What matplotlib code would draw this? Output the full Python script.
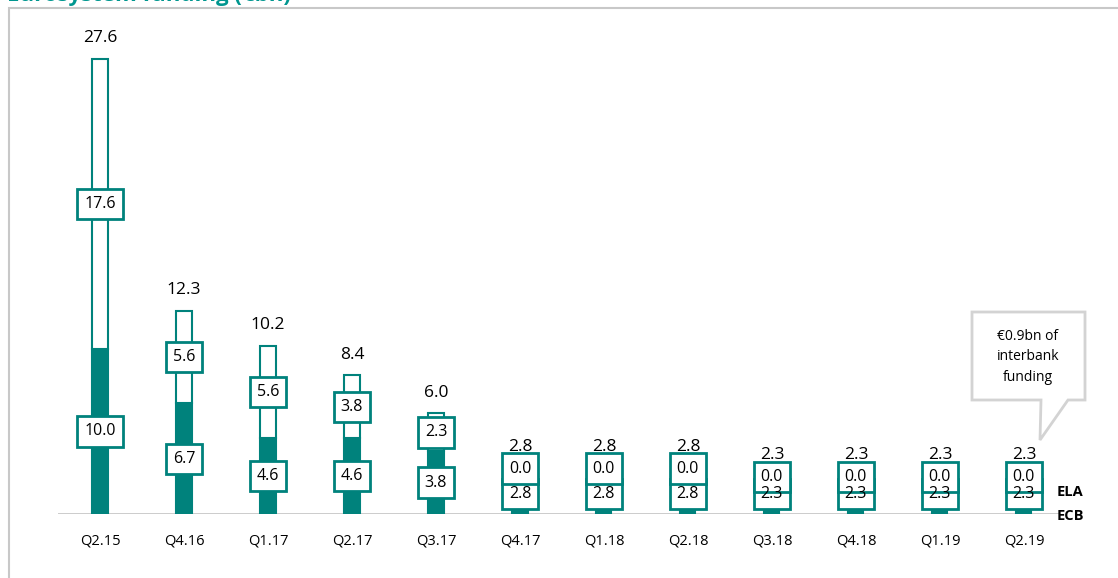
import numpy as np
import matplotlib
matplotlib.use("Agg")
import matplotlib.pyplot as plt
from matplotlib.patches import Rectangle, Polygon

plt.rcParams['font.family'] = ['Open Sans', 'DejaVu Sans']

## data
quarters = ["Q2.15", "Q4.16", "Q1.17", "Q2.17", "Q3.17", "Q4.17",
            "Q1.18", "Q2.18", "Q3.18", "Q4.18", "Q1.19", "Q2.19"]
ecb = [10.0, 6.7, 4.6, 4.6, 3.8, 2.8, 2.8, 2.8, 2.3, 2.3, 2.3, 2.3]
ela = [17.6, 5.6, 5.6, 3.8, 2.3, 0.0, 0.0, 0.0, 0.0, 0.0, 0.0, 0.0]
totals = [27.6, 12.3, 10.2, 8.4, 6.0, 2.8, 2.8, 2.8, 2.3, 2.3, 2.3, 2.3]
series_names = ["ELA", "ECB"]
title = "Eurosystem funding (€bn)"
note = "€0.9bn of\ninterbank\nfunding"

teal = "#00827c"
title_col = "#00968f"
grey = "#d3d3d3"

W, H = 1118, 578
fig = plt.figure(figsize=(W / 100, H / 100), dpi=100)

# axes placed in pixel terms: baseline y=514, top y=30, x from 58 to 1060
ax = fig.add_axes([58 / W, (H - 514) / H, 1002 / W, 484 / H])
ax.set_xlim(-0.5, 11.43)
ax.set_ylim(0, 29.33)
ax.set_axis_off()

x = np.arange(len(quarters))
top = np.array(ecb) + np.array(ela)
bw = 0.18

ax.bar(x, ecb, bw, color=teal, edgecolor=teal, linewidth=1.5, zorder=2)
ax.bar(x, ela, bw, bottom=ecb, color="white", edgecolor=teal, linewidth=1.5, zorder=2)
ax.axhline(0, color="#c8c8c8", lw=2, zorder=1)

box = dict(boxstyle="square,pad=0.45", fc="white", ec=teal, lw=2)
fs = 11.5
for i in range(len(quarters)):
    ax.text(x[i], top[i] + 1.25, f"{totals[i]:.1f}", ha="center", va="center",
            fontsize=12.5, zorder=7)
    if ela[i] > 0:
        ax.text(x[i], ecb[i] / 2, f"{ecb[i]:.1f}", ha="center", va="center",
                fontsize=fs, bbox=box, zorder=4)
        ax.text(x[i], ecb[i] + ela[i] / 2, f"{ela[i]:.1f}", ha="center", va="center",
                fontsize=fs, bbox=box, zorder=5)
    else:
        # small bars: the two boxes sit on top of each other,
        # the ECB number stays visible over the ELA box edge
        ax.text(x[i], 1.2, f"{ecb[i]:.1f}", ha="center", va="center", color="none",
                fontsize=fs, bbox=box, zorder=4)
        ax.text(x[i], top[i] - 0.05, f"{ela[i]:.1f}", ha="center", va="center",
                fontsize=fs, bbox=box, zorder=5)
        ax.text(x[i], 1.2, f"{ecb[i]:.1f}", ha="center", va="center",
                fontsize=fs, zorder=6)
    ax.text(x[i], -1.65, quarters[i], ha="center", va="center", fontsize=10.5)

# series names at the right end
fig.text(1057 / W, 1 - 492 / H, series_names[0], ha="left", va="center",
         fontsize=10.5, fontweight="bold")
fig.text(1057 / W, 1 - 516 / H, series_names[1], ha="left", va="center",
         fontsize=10.5, fontweight="bold")

# callout
pts = [(972, 312), (1085, 312), (1085, 400), (1068, 400), (1040, 440),
       (1041, 400), (972, 400)]
fig.patches.append(Polygon([(px / W, 1 - py / H) for px, py in pts], closed=True,
                           fc="white", ec=grey, lw=2, transform=fig.transFigure,
                           figure=fig, zorder=8))
fig.text(1028 / W, 1 - 357 / H, note, ha="center", va="center", fontsize=10,
         linespacing=1.5, zorder=9)

# outer frame and title (cut at the top)
fig.patches.append(Rectangle((9 / W, -0.1), 1.2, 1 - 8 / H + 0.1, fill=False,
                             ec="#c8c8c8", lw=1.5, transform=fig.transFigure,
                             figure=fig, zorder=0))
fig.text(7 / W, 1 - (-4) / H, title, ha="left", va="center", fontsize=16,
         fontweight="bold", color=title_col)

fig.savefig("out.png", dpi=100)
